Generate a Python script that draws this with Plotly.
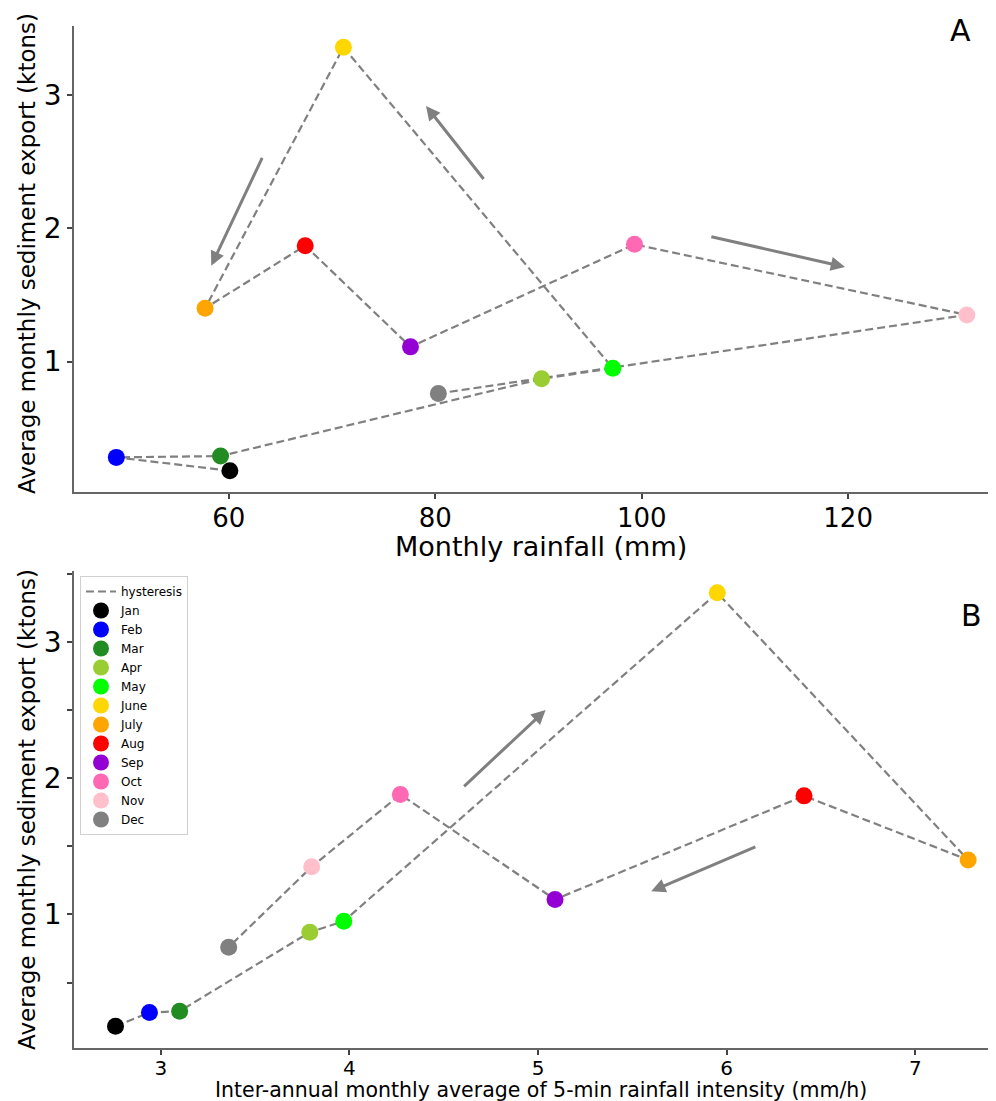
import plotly.graph_objects as go

# ---- data ----
months = ["Jan", "Feb", "Mar", "Apr", "May", "June", "July", "Aug", "Sep", "Oct", "Nov", "Dec"]
colors = ["#000000", "#0000FF", "#228B22", "#9ACD32", "#00FF00", "#FFD700",
          "#FFA500", "#FF0000", "#9400D3", "#FF69B4", "#FFC0CB", "#808080"]
sediment = [0.18, 0.28, 0.29, 0.87, 0.95, 3.36, 1.40, 1.87, 1.11, 1.88, 1.35, 0.76]
rainfall = [60.1, 49.1, 59.2, 90.3, 97.2, 71.1, 57.7, 67.4, 77.6, 99.3, 131.5, 80.3]
intensity = [2.76, 2.94, 3.10, 3.79, 3.97, 5.95, 7.28, 6.41, 5.09, 4.27, 3.80, 3.36]

# arrows: (tail_x, tail_y, head_x, head_y) in data units
arrows_a = [(63.3, 2.54, 58.3, 1.72), (84.8, 2.36, 79.1, 2.92), (106.6, 1.94, 119.7, 1.71)]
arrows_b = [(4.60, 1.93, 5.04, 2.50), (6.16, 1.50, 5.60, 1.17)]

GREY = "#808080"
FONT = "DejaVu Sans"
DASH = "8px,4px"

fig = go.Figure()

# hysteresis lines
fig.add_trace(go.Scatter(x=rainfall, y=sediment, mode="lines", xaxis="x", yaxis="y",
                         line=dict(color=GREY, width=2.2, dash=DASH),
                         showlegend=False, hoverinfo="skip"))
fig.add_trace(go.Scatter(x=intensity, y=sediment, mode="lines", xaxis="x2", yaxis="y2",
                         name="hysteresis", line=dict(color=GREY, width=2.2, dash=DASH),
                         showlegend=True, hoverinfo="skip"))

for i, m in enumerate(months):
    fig.add_trace(go.Scatter(x=[rainfall[i]], y=[sediment[i]], mode="markers", xaxis="x", yaxis="y",
                             marker=dict(color=colors[i], size=17), legendgroup=m,
                             showlegend=False, name=m))
    fig.add_trace(go.Scatter(x=[intensity[i]], y=[sediment[i]], mode="markers", xaxis="x2", yaxis="y2",
                             marker=dict(color=colors[i], size=17), legendgroup=m,
                             showlegend=True, name=m))

annotations = []
for tx, ty, hx, hy in arrows_a:
    annotations.append(dict(x=hx, y=hy, ax=tx, ay=ty, xref="x", yref="y", axref="x", ayref="y",
                            text="", showarrow=True, arrowhead=2, arrowsize=0.95, arrowwidth=3,
                            arrowcolor=GREY))
for tx, ty, hx, hy in arrows_b:
    annotations.append(dict(x=hx, y=hy, ax=tx, ay=ty, xref="x2", yref="y2", axref="x2", ayref="y2",
                            text="", showarrow=True, arrowhead=2, arrowsize=0.95, arrowwidth=3,
                            arrowcolor=GREY))

W, H = 996, 1101
L, R, T, B = 66, 0, 18, 61
ph = H - T - B
pw = W - L - R
a_bottom = (1040 - 484) / ph
b_top = (1040 - 563) / ph


def px(xp):
    return (xp - L) / pw


def py(yp):
    return (H - B - yp) / ph


annotations.append(dict(text="A", x=px(952), y=py(22), xref="paper", yref="paper",
                        xanchor="center", yanchor="middle", showarrow=False,
                        font=dict(size=30, family=FONT, color="black")))
annotations.append(dict(text="B", x=px(963), y=py(607), xref="paper", yref="paper",
                        xanchor="center", yanchor="middle", showarrow=False,
                        font=dict(size=30, family=FONT, color="black")))
ytitle = "Average monthly sediment export (ktons)"
annotations.append(dict(text=ytitle, textangle=-90, x=px(19), y=py(246),
                        xref="paper", yref="paper", xanchor="center", yanchor="middle",
                        showarrow=False, font=dict(size=23, family=FONT, color="black")))
annotations.append(dict(text=ytitle, textangle=-90, x=px(19), y=py(802),
                        xref="paper", yref="paper", xanchor="center", yanchor="middle",
                        showarrow=False, font=dict(size=23, family=FONT, color="black")))
annotations.append(dict(text="Monthly rainfall (mm)", x=px(533), y=py(539),
                        xref="paper", yref="paper", xanchor="center", yanchor="middle",
                        showarrow=False, font=dict(size=27, family=FONT, color="black")))
annotations.append(dict(text="Inter-annual monthly average of 5-min rainfall intensity (mm/h)",
                        x=px(533), y=py(1082), xref="paper", yref="paper",
                        xanchor="center", yanchor="middle",
                        showarrow=False, font=dict(size=20.5, family=FONT, color="black")))

axis_common = dict(showgrid=False, zeroline=False, showline=True, linecolor="#666", linewidth=1.5,
                   ticks="outside", ticklen=5, tickcolor="#444", tickwidth=1.5, automargin=False)

fig.update_layout(
    template="none",
    width=W, height=H,
    margin=dict(l=L, r=R, t=T, b=B, pad=0),
    plot_bgcolor="white", paper_bgcolor="white",
    font=dict(family=FONT, color="black"),
    xaxis=dict(domain=[0, 1], anchor="y", range=[45.0, 135.1], tickvals=[60, 80, 100, 120],
               tickfont=dict(size=26), ticklabelstandoff=-3, **axis_common),
    yaxis=dict(domain=[a_bottom, 1], anchor="x", range=[0.02, 3.52], tickvals=[1, 2, 3],
               tickfont=dict(size=28), **axis_common),
    xaxis2=dict(domain=[0, 1], anchor="y2", range=[2.54, 7.47], tickvals=[3, 4, 5, 6, 7],
                tickfont=dict(size=20), ticklabelstandoff=-4, **axis_common),
    yaxis2=dict(domain=[0, b_top], anchor="x2", range=[0.02, 3.52],
                tickvals=[0.5, 1, 1.5, 2, 2.5, 3, 3.5], ticktext=["", "1", "", "2", "", "3", ""],
                tickfont=dict(size=28), **axis_common),
    legend=dict(x=px(72), y=py(568), xanchor="left", yanchor="top",
                bordercolor="#d0d0d0", borderwidth=1, bgcolor="white",
                font=dict(size=12, family=FONT), tracegroupgap=0, itemsizing="trace"),
    annotations=annotations,
)

fig.write_html("out.html")
